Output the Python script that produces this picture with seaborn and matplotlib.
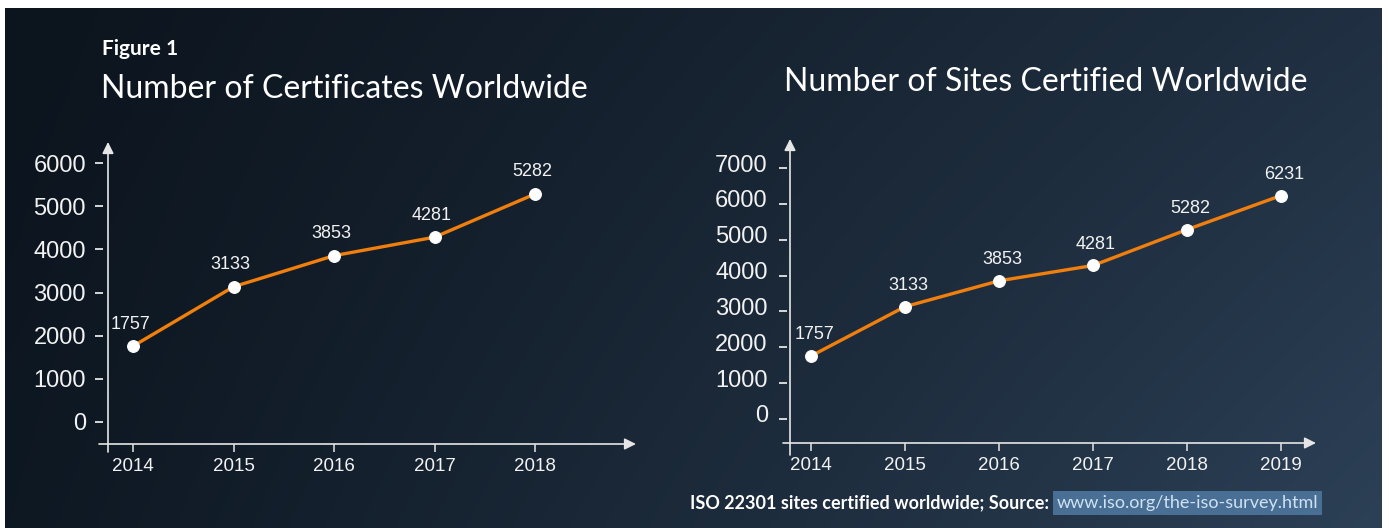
import numpy as np
import pandas as pd
import matplotlib
matplotlib.use("Agg")
import matplotlib.pyplot as plt
import matplotlib.transforms as mtransforms
import seaborn as sns

# ---------------- data ----------------
years_left = [2014, 2015, 2016, 2017, 2018]
certs_left = [1757, 3133, 3853, 4281, 5282]
yticks_left = [0, 1000, 2000, 3000, 4000, 5000, 6000]

years_right = [2014, 2015, 2016, 2017, 2018, 2019]
sites_right = [1757, 3133, 3853, 4281, 5282, 6231]
yticks_right = [0, 1000, 2000, 3000, 4000, 5000, 6000, 7000]

fig_label = "Figure 1"
title_left = "Number of Certificates Worldwide"
title_right = "Number of Sites Certified Worldwide"
footer_text = "ISO 22301 sites certified worldwide; Source: "
footer_link = "www.iso.org/the-iso-survey.html"

# ---------------- style ----------------
plt.rcParams["font.family"] = ["Liberation Sans", "DejaVu Sans"]
W, H = 1389, 528
ORANGE = "#f07f0e"
CHALK = "#f2f2f2"
TITLE_FONT = ["Lato", "DejaVu Sans"]

fig = plt.figure(figsize=(W / 100, H / 100), dpi=100)
fig.patch.set_facecolor("white")

# chalkboard background
bg = fig.add_axes([5 / W, 0, (1382 - 5) / W, (H - 8) / H])
bg.set_axis_off()
nx, ny = 200, 80
gx = np.linspace(0, 1, nx)[None, :]
gy = np.linspace(0, 1, ny)[:, None]
tl = np.array([0x0c, 0x14, 0x1d]) / 255
tr = np.array([0x20, 0x30, 0x42]) / 255
bl = np.array([0x0e, 0x18, 0x23]) / 255
br = np.array([0x2c, 0x40, 0x56]) / 255
tx = gx ** 1.1
img = ((1 - tx)[..., None] * ((1 - gy)[..., None] * tl + gy[..., None] * bl)
       + tx[..., None] * ((1 - gy)[..., None] * tr + gy[..., None] * br))
bg.imshow(img, aspect="auto", extent=[0, 1, 0, 1], interpolation="bilinear")
bg.set_xlim(0, 1)
bg.set_ylim(0, 1)


def fig_xy(px, py):
    return px / W, 1 - py / H


def make_chart(box, x0, x0px, sx, y0px, sy, years, vals, yticks,
               yaxis_px, ytick_end_px, xaxis_py, xstart_px, xtip_px,
               ybot_py, ytip_py, ypad, label_dy_px, label_dx_px, ylab_shift_px):
    left, right, top, bottom = box
    ax = fig.add_axes([left / W, 1 - bottom / H, (right - left) / W, (bottom - top) / H])
    ax.patch.set_alpha(0)

    def px2x(px):
        return x0 + (px - x0px) / sx

    def py2y(py):
        return (y0px - py) / sy

    ax.set_xlim(px2x(left), px2x(right))
    ax.set_ylim(py2y(bottom), py2y(top))

    df = pd.DataFrame({"year": years, "value": vals})
    sns.lineplot(data=df, x="year", y="value", ax=ax, color=ORANGE, lw=2.4,
                 marker="o", markersize=8.5, markerfacecolor="white",
                 markeredgecolor="white", clip_on=False, zorder=5)
    for xv, yv in zip(years, vals):
        ax.annotate(f"{yv}", (xv, yv), xytext=(label_dx_px * 0.72, label_dy_px * 0.72),
                    textcoords="offset points", ha="center", va="center",
                    color=CHALK, fontsize=13, zorder=6)

    # hand-drawn looking axes with arrows
    ax.annotate("", xy=(px2x(yaxis_px), py2y(ytip_py)), xytext=(px2x(yaxis_px), py2y(ybot_py)),
                arrowprops=dict(arrowstyle="-|>", color="#e6e6e6", lw=1.2,
                                mutation_scale=17, shrinkA=0, shrinkB=0),
                annotation_clip=False)
    ax.annotate("", xy=(px2x(xtip_px), py2y(xaxis_py)), xytext=(px2x(xstart_px), py2y(xaxis_py)),
                arrowprops=dict(arrowstyle="-|>", color="#e6e6e6", lw=1.2,
                                mutation_scale=17, shrinkA=0, shrinkB=0),
                annotation_clip=False)

    for s in ax.spines.values():
        s.set_color("none")
    ax.spines["left"].set_position(("data", px2x(ytick_end_px)))
    ax.spines["bottom"].set_position(("data", py2y(xaxis_py)))

    ax.set_yticks(yticks)
    ax.set_yticklabels([str(t) for t in yticks])
    ax.set_xticks(years)
    ax.set_xticklabels([str(y) for y in years])
    ax.tick_params(axis="y", length=5.8, width=1.3, color="#e6e6e6", pad=ypad,
                   labelcolor=CHALK, labelsize=17)
    ax.tick_params(axis="x", length=6, width=1.1, color="#e6e6e6", pad=4,
                   labelcolor=CHALK, labelsize=13.5)
    if ylab_shift_px:
        off = mtransforms.ScaledTranslation(0, ylab_shift_px / 100, fig.dpi_scale_trans)
        for lab in ax.get_yticklabels():
            lab.set_transform(lab.get_transform() + off)
    ax.set_xlabel("")
    ax.set_ylabel("")
    return ax


# left chart
make_chart(box=(95, 645, 135, 460), x0=2014, x0px=133, sx=100.5, y0px=422, sy=259 / 6000,
           years=years_left, vals=certs_left, yticks=yticks_left,
           yaxis_px=108, ytick_end_px=103, xaxis_py=444, xstart_px=99, xtip_px=636,
           ybot_py=452, ytip_py=142, ypad=6.5, label_dy_px=22, label_dx_px=-3,
           ylab_shift_px=0)

# right chart
make_chart(box=(778, 1325, 135, 460), x0=2014, x0px=811, sx=94, y0px=419, sy=251 / 7000,
           years=years_right, vals=sites_right, yticks=yticks_right,
           yaxis_px=790, ytick_end_px=787, xaxis_py=443, xstart_px=783, xtip_px=1316,
           ybot_py=455, ytip_py=139, ypad=8, label_dy_px=21, label_dx_px=3,
           ylab_shift_px=5)

# titles
fig.text(*fig_xy(102, 49), fig_label, color="white", fontsize=15, fontweight="bold",
         family=TITLE_FONT, ha="left", va="center")
fig.text(*fig_xy(101, 89), title_left, color="white", fontsize=23,
         family=TITLE_FONT, ha="left", va="center")
fig.text(*fig_xy(784, 82), title_right, color="white", fontsize=23,
         family=TITLE_FONT, ha="left", va="center")

# footer with highlighted link
t1 = fig.text(*fig_xy(690, 503), footer_text, color="white", fontsize=13, fontweight="bold",
              family=TITLE_FONT, ha="left", va="center")
fig.canvas.draw()
ext = t1.get_window_extent()
fig.text((ext.x1 + 3) / W, 1 - 503 / H, footer_link, color="#cfe2f3", fontsize=13,
         family=TITLE_FONT, ha="left", va="center",
         bbox=dict(boxstyle="square,pad=0.2", facecolor="#4a6f95", edgecolor="none"))

fig.savefig("out.png", dpi=100, facecolor=fig.get_facecolor())
